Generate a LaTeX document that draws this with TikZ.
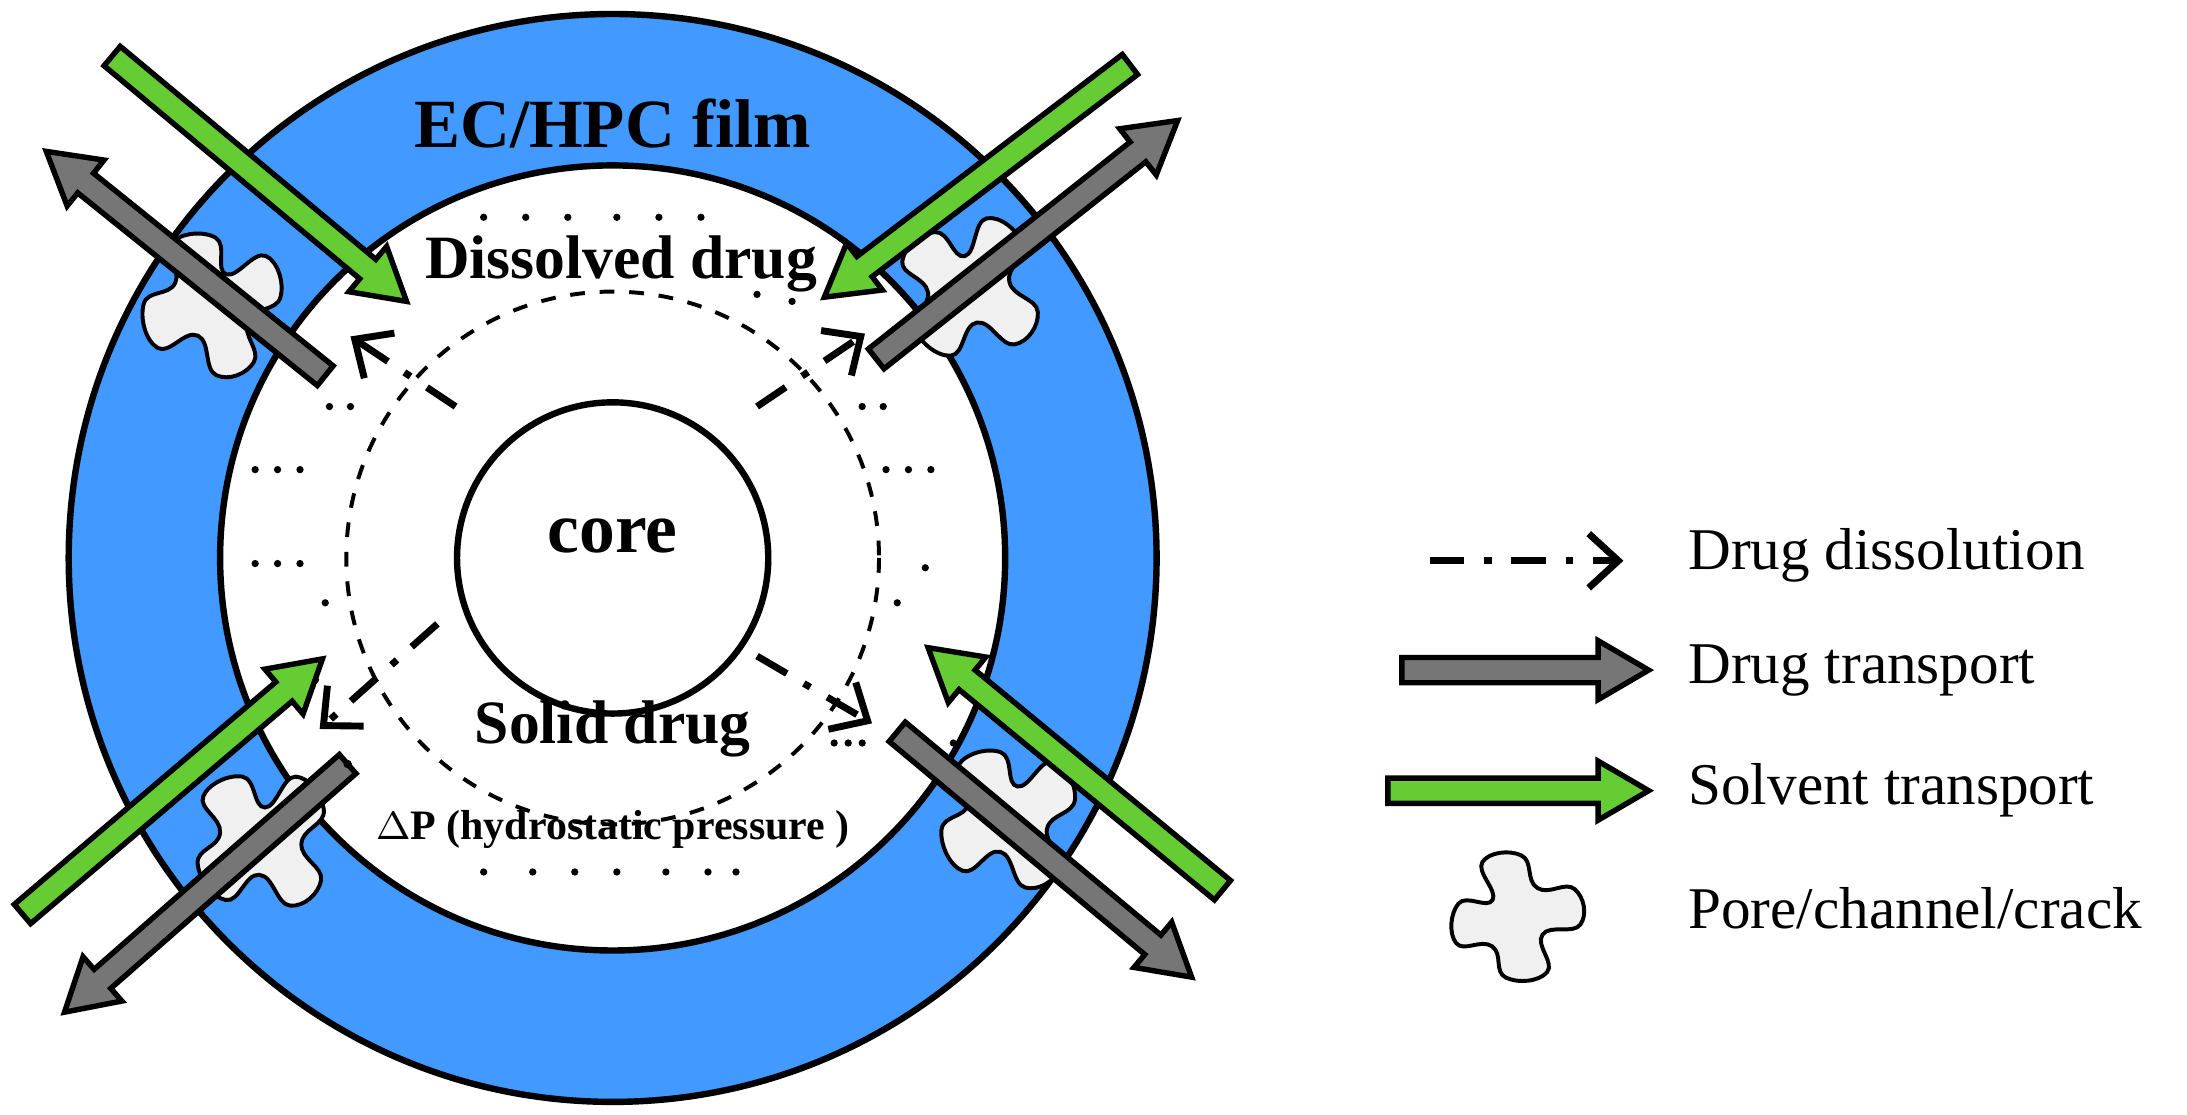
\documentclass[tikz,border=0pt]{standalone}
\usepackage{fontspec}
\setmainfont{Liberation Serif}
\usetikzlibrary{calc,arrows.meta}
\definecolor{filmblue}{RGB}{66,153,255}
\definecolor{solvgreen}{RGB}{102,204,51}
\definecolor{transgray}{RGB}{118,118,118}
\newcommand\fatarrow[3]{%
  \coordinate (hb) at ($(#3)!0.36cm!(#2)$);
  \filldraw[fill=#1,line width=1.1pt,line join=miter]
    ($(#2)!0.09cm!90:(#3)$) -- ($(hb)!0.09cm!-90:(#2)$) -- ($(hb)!0.21cm!-90:(#2)$)
    -- (#3) -- ($(hb)!0.21cm!90:(#2)$) -- ($(hb)!0.09cm!90:(#2)$)
    -- ($(#2)!0.09cm!-90:(#3)$) -- cycle;}
\begin{document}
\begin{tikzpicture}[x=0.01cm,y=-0.01cm,
  big_label/.style={font=\bfseries\fontsize{12.5}{15}\selectfont},
  leg_label/.style={anchor=west,font=\fontsize{12}{14}\selectfont},
  diss_arrow/.style={line width=1.4pt,dash pattern=on 7pt off 4pt on 1.5pt off 4pt,-{Straight Barb[length=6pt,width=11pt]}},
  pore/.pic={\filldraw[fill=gray!12,line width=0.8pt] plot[smooth cycle,tension=0.8] coordinates
    {(-40,-30)(-12,-44)(4,-22)(26,-44)(46,-20)(30,4)(44,30)(22,48)(0,26)(-24,44)(-44,18)(-28,-4)};}]
\useasboundingbox (0,0) rectangle (1560,795);

% tablet
\coordinate (c) at (437,398);
\filldraw[fill=filmblue,line width=1.3pt] (c) circle (388);
\filldraw[fill=white,line width=1.3pt] (c) circle (280);
\draw[dashed,line width=0.8pt] (c) circle (190);
\draw[line width=1.3pt] (c) circle (111);

% pores
\pic[rotate=-20] at (150,215) {pore};
\pic[rotate=15] at (690,205) {pore};
\pic[rotate=0] at (185,598) {pore};
\pic[rotate=-10] at (718,582) {pore};

% texts
\node[big_label,font=\bfseries\fontsize{14}{16}\selectfont] (film) at (437,88) {EC/HPC film};
\node[big_label] (diss) at (443,188) {Dissolved drug};
\node[big_label,font=\bfseries\fontsize{14.5}{17}\selectfont] (core) at (437,382) {core};
\node[big_label] (solid) at (437,520) {Solid drug};
\node[font=\bfseries\fontsize{8.5}{10}\selectfont] (dp) at (437,592) {$\Delta$P (hydrostatic pressure )};

% dots
\foreach \p in {(345,155),(375,155),(405,155),(440,155),(470,155),(500,155),
  (540,210),(565,215),(235,290),(250,290),(615,290),(630,290),
  (182,335),(198,335),(214,335),(632,335),(648,335),(664,335),
  (182,402),(198,402),(214,402),(660,405),(232,430),(640,430),
  (210,485),(225,485),(595,530),(605,530),(615,530),(680,530),
  (345,622),(380,622),(410,622),(440,622),(475,622),(505,622),(525,622)}
  \fill \p circle (2.6);

% dissolution arrows
\coordinate (d1a) at (325,290); \coordinate (d1b) at (250,240);
\coordinate (d2a) at (540,290); \coordinate (d2b) at (617,238);
\coordinate (d3a) at (312,445); \coordinate (d3b) at (228,520);
\coordinate (d4a) at (540,468); \coordinate (d4b) at (622,516);
\draw[diss_arrow] (d1a) -- (d1b);
\draw[diss_arrow] (d2a) -- (d2b);
\draw[diss_arrow] (d3a) -- (d3b);
\draw[diss_arrow] (d4a) -- (d4b);

% drug transport
\coordinate (t1a) at (232,268); \coordinate (t1b) at (33,108);
\coordinate (t2a) at (625,256); \coordinate (t2b) at (840,86);
\coordinate (t3a) at (248,545); \coordinate (t3b) at (46,722);
\coordinate (t4a) at (640,522); \coordinate (t4b) at (850,697);
\fatarrow{transgray}{t1a}{t1b}
\fatarrow{transgray}{t2a}{t2b}
\fatarrow{transgray}{t3a}{t3b}
\fatarrow{transgray}{t4a}{t4b}
\fill (t3a) circle (3);

% solvent transport
\coordinate (s1a) at (80,40); \coordinate (s1b) at (290,215);
\coordinate (s2a) at (806,46); \coordinate (s2b) at (588,212);
\coordinate (s3a) at (16,652); \coordinate (s3b) at (230,470);
\coordinate (s4a) at (872,635); \coordinate (s4b) at (662,462);
\fatarrow{solvgreen}{s1a}{s1b}
\fatarrow{solvgreen}{s2a}{s2b}
\fatarrow{solvgreen}{s3a}{s3b}
\fatarrow{solvgreen}{s4a}{s4b}

% legend
\coordinate (l1a) at (1020,400); \coordinate (l1b) at (1158,400);
\draw[diss_arrow] (l1a) -- (l1b);
\node[leg_label] (l1) at (1192,396) {Drug dissolution};
\coordinate (l2a) at (1000,478); \coordinate (l2b) at (1176,478);
\fatarrow{transgray}{l2a}{l2b}
\node[leg_label] (l2) at (1192,478) {Drug transport};
\coordinate (l3a) at (990,564); \coordinate (l3b) at (1176,564);
\fatarrow{solvgreen}{l3a}{l3b}
\node[leg_label] (l3) at (1192,564) {Solvent transport};
\pic[rotate=60,scale=0.9] at (1080,655) {pore};
\node[leg_label] (l4) at (1192,648) {Pore/channel/crack};
\end{tikzpicture}
\end{document}
